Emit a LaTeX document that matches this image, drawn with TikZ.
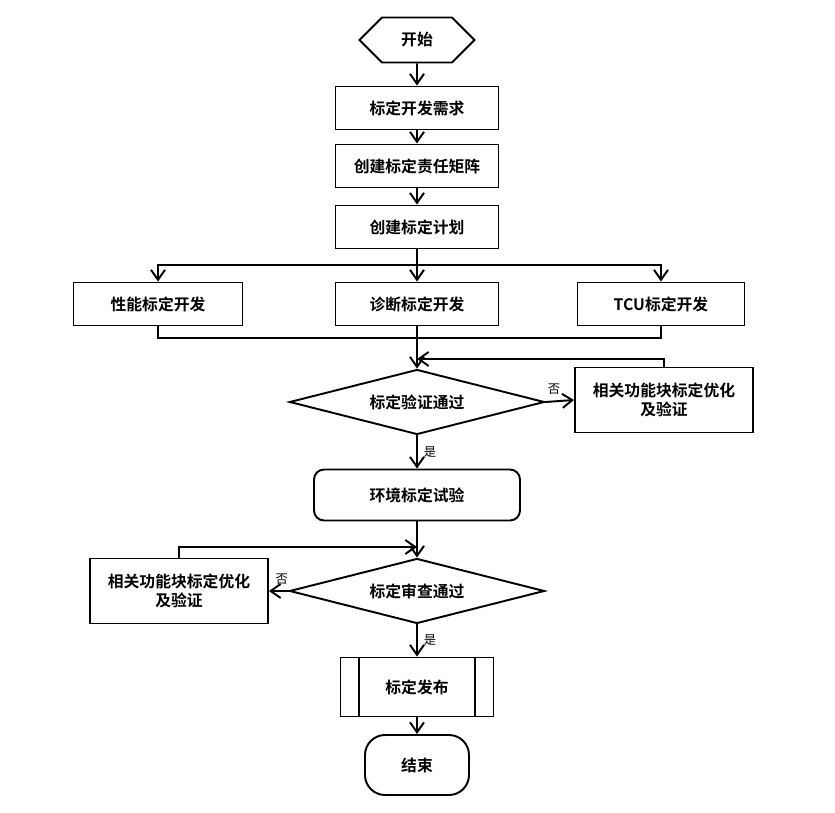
\documentclass[tikz,border=0pt]{standalone}
\usepackage{fontspec}
\setmainfont{Noto Sans CJK SC}[BoldFont={Noto Sans CJK SC Bold}]
\usepackage{tikz}
\usetikzlibrary{shapes.geometric,shapes.symbols,arrows.meta}

\begin{document}
\begin{tikzpicture}[x=0.02cm,y=-0.02cm,line width=1.1pt,
    >={Straight Barb[length=2mm,width=2.8mm]},
    font=\bfseries\fontsize{9}{11}\selectfont,
    proc/.style={draw, rectangle, minimum width=3.26cm, minimum height=0.86cm},
    decide/.style={draw, diamond, aspect=4, inner sep=0pt, minimum width=5.1cm, minimum height=1.3cm},
    fix/.style={draw, rectangle, align=center, minimum width=3.56cm, minimum height=1.3cm},
    yesno/.style={font=\fontsize{7}{8}\selectfont}]
    \useasboundingbox (0,0) rectangle (835,813);

    \node (start) [draw, signal, signal to=west and east, signal pointer angle=90, minimum width=2.3cm, minimum height=0.9cm] at (417,40) {开始};
    \node (req) [proc] at (417,108) {标定开发需求};
    \node (matrix) [proc] at (417,166) {创建标定责任矩阵};
    \node (plan) [proc] at (417,227) {创建标定计划};
    \node (perf) [proc, minimum width=3.38cm] at (158,304) {性能标定开发};
    \node (diag) [proc] at (417,304) {诊断标定开发};
    \node (tcu) [proc, minimum width=3.34cm] at (661,304) {TCU标定开发};
    \node (verify) [decide] at (417,402) {标定验证通过};
    \node (fixa) [fix] at (664,400) {相关功能块标定优化\\及验证};
    \node (env) [draw, rectangle, rounded corners=0.2cm, minimum width=4.12cm, minimum height=1.02cm] at (417,495) {环境标定试验};
    \node (review) [decide] at (417,591) {标定审查通过};
    \node (fixb) [fix] at (179,591) {相关功能块标定优化\\及验证};
    \node (pub) [draw, rectangle, minimum width=3.06cm, minimum height=1.18cm] at (417,687) {标定发布};
    \node (end) [draw, rectangle, rounded corners=0.4cm, minimum width=2.08cm, minimum height=1.2cm] at (417,765) {结束};

    \coordinate (branch) at (417,265);
    \coordinate (merge) at (417,338);
    \coordinate (loopa) at (417,359);
    \coordinate (loopb) at (417,547);

    \draw[->] (start) -- (req);
    \draw[->] (req) -- (matrix);
    \draw[->] (matrix) -- (plan);
    \draw (plan) -- (branch);
    \draw[->] (branch) -| (perf);
    \draw[->] (branch) -| (tcu);
    \draw[->] (branch) -- (diag);
    \draw (perf.south) |- (merge) -| (tcu.south);
    \draw[->] (diag) -- (verify);
    \draw[->] (verify.east) -- node[yesno, above, pos=0.3] {否} (fixa.west);
    \draw[->] (fixa.north) |- (loopa);
    \draw[->] (verify) -- node[yesno, right] {是} (env);
    \draw[->] (env) -- (review);
    \draw[->] (review.west) -- node[yesno, above, pos=0.35] {否} (fixb.east);
    \draw[->] (fixb.north) |- (loopb);
    \draw[->] (review) -- node[yesno, right] {是} (pub);
    \draw[->] (pub) -- (end);
    % side bars of the predefined process
    \draw ([xshift=0.38cm]pub.north west) -- ([xshift=0.38cm]pub.south west);
    \draw ([xshift=-0.38cm]pub.north east) -- ([xshift=-0.38cm]pub.south east);
\end{tikzpicture}
\end{document}
